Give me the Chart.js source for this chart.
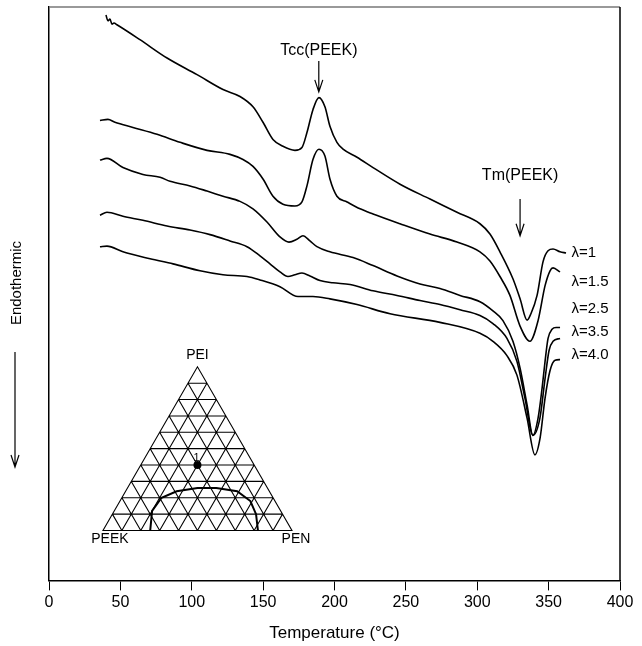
<!DOCTYPE html>
<html>
<head>
<meta charset="utf-8">
<script src="https://cdn.jsdelivr.net/npm/chart.js@4.4.1/dist/chart.umd.min.js"></script>
<style>
  html, body { margin: 0; padding: 0; background: #fff; }
  #wrap { width: 642px; height: 646px; }
</style>
</head>
<body>
<div id="wrap"><canvas id="dscChart" width="642" height="646"></canvas></div>
<script>
const X_TICKS = [0, 50, 100, 150, 200, 250, 300, 350, 400];
const SERIES_LABELS = ["λ=1", "λ=1.5", "λ=2.5", "λ=3.5", "λ=4.0"];
const LABEL_HEAT = [57.1, 52.1, 47.4, 43.4, 39.4];

// heat flow in arbitrary units (0 = bottom of frame, 100 = top)
const TEMP_L1 = [39.9, 41.3, 42.7, 44.1, 45.5, 47.6, 63.7, 82.7, 103.7, 121.9, 133.8, 142.9, 149.9, 156.9, 163.9, 172.3, 177.2, 180.7, 184.9, 189.1, 193.3, 196.8, 201.7, 206.0, 215.8, 227.0, 245.9, 266.9, 285.8, 301.9, 308.9, 315.9, 325.0, 330.0, 334.9, 337.6, 341.9, 346.1, 349.6, 353.1, 358.0, 362.2];
const HEAT_L1 = [98.6, 97.6, 97.9, 97.0, 97.2, 96.9, 94.3, 91.1, 88.2, 85.6, 84.4, 82.6, 79.9, 76.9, 75.7, 75.0, 75.5, 78.1, 82.1, 84.2, 82.6, 79.2, 76.4, 75.2, 73.8, 72.0, 69.1, 66.5, 64.2, 62.2, 60.4, 57.3, 52.6, 49.1, 45.4, 46.5, 49.7, 55.6, 57.5, 57.8, 57.3, 57.1];

const TEMP_L15 = [35.7, 41.3, 46.2, 58.8, 75.7, 91.8, 110.7, 126.8, 135.9, 142.9, 149.9, 156.9, 163.9, 172.3, 177.2, 180.7, 184.9, 189.1, 193.3, 196.8, 201.7, 208.8, 217.9, 227.0, 245.9, 266.9, 285.8, 301.9, 308.9, 315.9, 322.9, 329.9, 336.9, 342.6, 347.5, 351.0, 353.1, 358.0];
const HEAT_L15 = [80.2, 80.4, 79.9, 79.0, 77.8, 76.4, 75.0, 74.3, 73.4, 72.2, 70.0, 67.0, 65.6, 65.3, 66.0, 68.8, 73.4, 75.2, 74.0, 70.0, 67.0, 66.0, 64.8, 63.9, 62.2, 60.4, 59.0, 57.3, 55.7, 53.0, 49.7, 44.4, 41.7, 45.3, 51.4, 54.0, 54.5, 53.8];

const TEMP_L25 = [35.7, 40.6, 51.8, 65.8, 77.8, 84.8, 98.8, 110.7, 121.9, 133.8, 142.9, 152.7, 161.8, 168.1, 173.7, 177.9, 182.8, 187.7, 196.8, 213.0, 227.0, 243.8, 259.9, 273.9, 287.9, 301.9, 311.0, 318.0, 325.0, 330.0, 334.9, 339.0, 342.6, 345.4, 347.5, 349.6, 352.4, 355.2, 358.0];
const HEAT_L25 = [73.3, 73.6, 72.0, 70.8, 70.3, 69.6, 68.8, 67.9, 67.0, 66.1, 64.8, 62.5, 59.9, 59.0, 59.5, 60.1, 59.2, 58.2, 57.3, 56.3, 54.9, 53.1, 51.7, 50.9, 49.7, 48.6, 47.0, 45.3, 41.7, 37.0, 30.6, 25.3, 28.3, 33.5, 38.2, 42.2, 43.8, 44.1, 44.1];

const TEMP_L35 = [35.7, 40.6, 51.8, 65.8, 82.7, 98.8, 112.8, 126.8, 138.7, 147.8, 154.8, 161.8, 167.4, 172.3, 177.2, 182.8, 189.8, 198.9, 210.9, 227.0, 243.8, 259.9, 273.9, 287.9, 301.9, 311.0, 320.8, 327.8, 333.4, 339.0, 343.9, 347.5, 350.3, 353.1, 358.0];
const HEAT_L35 = [63.7, 64.2, 63.5, 62.8, 61.8, 61.1, 60.3, 59.2, 58.2, 56.6, 55.2, 53.8, 53.0, 53.3, 53.6, 53.1, 52.3, 51.9, 51.6, 50.5, 49.7, 48.8, 48.1, 47.2, 46.2, 44.8, 42.2, 38.2, 31.8, 25.3, 28.3, 35.2, 40.1, 41.7, 42.2];

const TEMP_L40 = [35.7, 40.6, 51.8, 70.8, 86.9, 105.8, 121.9, 138.7, 147.8, 161.8, 174.4, 184.9, 196.8, 215.8, 238.9, 273.9, 301.9, 311.0, 320.8, 327.8, 334.9, 340.4, 344.0, 347.5, 351.0, 354.5, 358.0];
const HEAT_L40 = [58.2, 58.3, 57.3, 56.1, 55.2, 54.0, 53.3, 53.0, 52.4, 51.2, 49.5, 49.5, 49.1, 48.1, 46.5, 45.0, 43.1, 41.7, 39.2, 35.8, 28.3, 21.9, 24.8, 31.8, 36.6, 38.4, 38.5];

// ternary inset: compositions as fractions (PEEK, PEI, PEN)
const TERNARY_CORNERS = ["PEEK", "PEI", "PEN"];
const TERNARY_DIVISIONS = 10;
const BLEND_COMPOSITION = [0.3, 0.4, 0.3];
const BINODAL_PEI = [0, 0.12, 0.20, 0.24, 0.26, 0.26, 0.24, 0.18, 0.10, 0];
const BINODAL_PEN = [0.25, 0.20, 0.21, 0.27, 0.37, 0.47, 0.59, 0.69, 0.76, 0.82];

const FONT = "'Liberation Sans', Arial, Helvetica, sans-serif";

const INSET = { leftTemp: 37.8, rightTemp: 170.2, baseHeat: 8.7 };
const NOTES = [
  { text: "Tcc(PEEK)", temp: 189, textHeat: 92.4, from: 90.6, to: 85.2 },
  { text: "Tm(PEEK)", temp: 330, textHeat: 70.6, from: 66.5, to: 60.1 },
];

function toPoints(xs, ys) {
  return xs.map((x, i) => ({ x, y: ys[i] }));
}

function drawArrow(ctx, x, y1, y2) {
  ctx.beginPath();
  ctx.moveTo(x, y1);
  ctx.lineTo(x, y2);
  ctx.moveTo(x - 4, y2 - 12);
  ctx.lineTo(x, y2);
  ctx.lineTo(x + 4, y2 - 12);
  ctx.stroke();
}

const overlayPlugin = {
  id: "overlay",
  afterDatasetsDraw(chart) {
    const { ctx, chartArea } = chart;
    const xs = chart.scales.x;
    const ys = chart.scales.y;
    ctx.save();

    // frame top / right
    ctx.lineWidth = 1.5;
    ctx.strokeStyle = "#777";
    ctx.beginPath();
    ctx.moveTo(chartArea.left, chartArea.top);
    ctx.lineTo(chartArea.right, chartArea.top);
    ctx.stroke();
    ctx.strokeStyle = "#000";
    ctx.beginPath();
    ctx.moveTo(chartArea.right, chartArea.top);
    ctx.lineTo(chartArea.right, chartArea.bottom);
    ctx.stroke();

    // y title with arrow
    ctx.fillStyle = "#000";
    ctx.font = "15px " + FONT;
    ctx.textAlign = "center";
    ctx.textBaseline = "middle";
    ctx.save();
    ctx.translate(17, 283);
    ctx.rotate(-Math.PI / 2);
    ctx.fillText("Endothermic", 0, 0);
    ctx.restore();
    ctx.lineWidth = 1.2;
    drawArrow(ctx, 15, 352, 467);

    // annotations
    ctx.font = "16px " + FONT;
    NOTES.forEach((n) => {
      const px = xs.getPixelForValue(n.temp);
      ctx.fillText(n.text, px, ys.getPixelForValue(n.textHeat));
      drawArrow(ctx, px, ys.getPixelForValue(n.from), ys.getPixelForValue(n.to));
    });

    // series labels
    ctx.textAlign = "left";
    ctx.font = "15px " + FONT;
    SERIES_LABELS.forEach((lab, i) => {
      ctx.fillText(lab, xs.getPixelForValue(366), ys.getPixelForValue(LABEL_HEAT[i]));
    });

    // ternary inset
    const base = ys.getPixelForValue(INSET.baseHeat);
    const L = { x: xs.getPixelForValue(INSET.leftTemp), y: base };
    const R = { x: xs.getPixelForValue(INSET.rightTemp), y: base };
    const A = { x: (L.x + R.x) / 2, y: base - (R.x - L.x) * Math.sqrt(3) / 2 };
    const pt = (a, b, c) => ({ x: a * L.x + b * A.x + c * R.x, y: a * L.y + b * A.y + c * R.y });

    ctx.lineWidth = 1.1;
    ctx.beginPath();
    ctx.moveTo(L.x, L.y); ctx.lineTo(A.x, A.y); ctx.lineTo(R.x, R.y); ctx.closePath();
    for (let k = 1; k < TERNARY_DIVISIONS; k += 1) {
      const f = k / TERNARY_DIVISIONS;
      let p = pt(1 - f, f, 0), q = pt(0, f, 1 - f);
      ctx.moveTo(p.x, p.y); ctx.lineTo(q.x, q.y);
      p = pt(f, 1 - f, 0); q = pt(f, 0, 1 - f);
      ctx.moveTo(p.x, p.y); ctx.lineTo(q.x, q.y);
      p = pt(1 - f, 0, f); q = pt(0, 1 - f, f);
      ctx.moveTo(p.x, p.y); ctx.lineTo(q.x, q.y);
    }
    ctx.stroke();

    ctx.lineWidth = 2;
    ctx.beginPath();
    BINODAL_PEI.forEach((b, i) => {
      const c = BINODAL_PEN[i];
      const p = pt(1 - b - c, b, c);
      if (i === 0) ctx.moveTo(p.x, p.y); else ctx.lineTo(p.x, p.y);
    });
    ctx.stroke();

    const d = pt(...BLEND_COMPOSITION);
    ctx.beginPath();
    ctx.arc(d.x, d.y, 4, 0, Math.PI * 2);
    ctx.fill();
    ctx.font = "11px " + FONT;
    ctx.textAlign = "center";
    ctx.textBaseline = "bottom";
    ctx.fillText("1", d.x - 1, d.y - 2);

    ctx.font = "14px " + FONT;
    ctx.textBaseline = "middle";
    ctx.fillText(TERNARY_CORNERS[1], A.x, A.y - 12);
    ctx.fillText(TERNARY_CORNERS[0], L.x + 7, L.y + 9);
    ctx.fillText(TERNARY_CORNERS[2], R.x + 4, R.y + 9);

    ctx.restore();
  },
};

const lineStyle = {
  borderColor: "#000",
  borderWidth: 1.6,
  pointRadius: 0,
  fill: false,
  cubicInterpolationMode: "monotone",
};

new Chart(document.getElementById("dscChart"), {
  type: "line",
  data: {
    datasets: [
      { label: SERIES_LABELS[0], data: toPoints(TEMP_L1, HEAT_L1), ...lineStyle },
      { label: SERIES_LABELS[1], data: toPoints(TEMP_L15, HEAT_L15), ...lineStyle },
      { label: SERIES_LABELS[2], data: toPoints(TEMP_L25, HEAT_L25), ...lineStyle },
      { label: SERIES_LABELS[3], data: toPoints(TEMP_L35, HEAT_L35), ...lineStyle },
      { label: SERIES_LABELS[4], data: toPoints(TEMP_L40, HEAT_L40), ...lineStyle },
    ],
  },
  options: {
    responsive: false,
    animation: false,
    devicePixelRatio: 1,
    layout: { padding: { left: 49, right: 22, top: 7, bottom: 2 } },
    plugins: {
      legend: { display: false },
      tooltip: { enabled: false },
    },
    scales: {
      x: {
        type: "linear",
        min: 0,
        max: 400,
        afterBuildTicks: (axis) => {
          axis.ticks = X_TICKS.map((v) => ({ value: v }));
        },
        grid: { drawOnChartArea: false, drawTicks: true, tickLength: 10, color: "#000" },
        border: { display: true, color: "#000", width: 1.5 },
        ticks: { color: "#000", padding: 3, font: { family: FONT, size: 16 }, maxRotation: 0 },
        title: {
          display: true,
          text: "Temperature (°C)",
          color: "#000",
          font: { family: FONT, size: 17 },
          padding: { top: 8, bottom: 0 },
        },
      },
      y: {
        min: 0,
        max: 100,
        grid: { display: false, drawTicks: false },
        border: { display: true, color: "#000", width: 1.5 },
        ticks: { display: false },
      },
    },
  },
  plugins: [overlayPlugin],
});
</script>
</body>
</html>
